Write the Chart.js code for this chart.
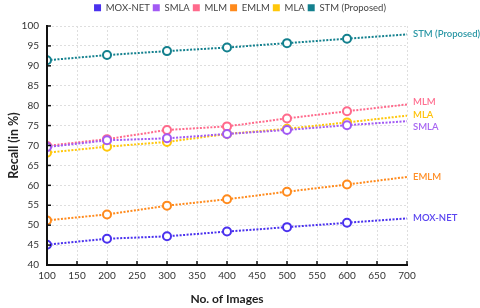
<!DOCTYPE html>
<html>
<head>
<meta charset="utf-8">
<script src="https://cdn.jsdelivr.net/npm/chart.js@4/dist/chart.umd.min.js"></script>
<style>
html,body{margin:0;padding:0;background:#fff;}
#wrap{width:480px;height:308px;position:relative;}
</style>
</head>
<body>
<div id="wrap"><canvas id="c" width="480" height="308"></canvas></div>
<script>
const xValues = [100, 200, 300, 400, 500, 600, 700];
const seriesNames = ["MOX-NET", "SMLA", "MLM", "EMLM", "MLA", "STM (Proposed)"];
const moxNet = [45.1, 46.6, 47.2, 48.4, 49.5, 50.6, 51.7];
const smla   = [69.6, 71.3, 71.8, 72.9, 73.9, 75.1, 76.1];
const mlm    = [69.9, 71.6, 73.9, 74.8, 76.8, 78.6, 80.3];
const emlm   = [51.2, 52.7, 54.9, 56.5, 58.4, 60.2, 62.1];
const mla    = [68.2, 69.7, 70.9, 72.9, 74.2, 75.8, 77.5];
const stm    = [91.4, 92.7, 93.7, 94.6, 95.7, 96.8, 97.9];
const seriesValues = [moxNet, smla, mlm, emlm, mla, stm];
const colors = ["#4a31ee", "#a25af4", "#ff6a8c", "#ff8a1c", "#ffc70a", "#13808e"];
const labelColors = ["#5a45f0", "#a866f2", "#ff6f90", "#ff8e26", "#ffc20a", "#2a97a5"];
const labelOffsets = [0, 5.5, -3, 0, -1, 0];
const yTicks = [40, 45, 50, 55, 60, 65, 70, 75, 80, 85, 90, 95, 100];

const datasets = seriesNames.map((n, i) => ({
  label: n,
  data: xValues.map((x, j) => ({x: x, y: seriesValues[i][j]})),
  borderColor: colors[i],
  backgroundColor: colors[i],
  pointBackgroundColor: "#ffffff",
  pointBorderColor: colors[i],
  pointBorderWidth: 2,
  pointRadius: ctx => ctx.dataIndex === xValues.length - 1 ? 0 : 4,
  borderWidth: 2,
  borderDash: [2, 1.5],
  tension: 0,
  fill: false
}));

const legendHeight = {
  id: "legendHeight",
  beforeLayout(chart) {
    const lg = chart.legend;
    if (lg && !lg._wrapped) {
      const orig = lg.fit.bind(lg);
      lg.fit = function () { orig(); this.height = 26; };
      lg._wrapped = true;
    }
  }
};

const innerTicks = {
  id: "innerTicks",
  afterDatasetsDraw(chart) {
    const {ctx, chartArea: a, scales: {x, y}} = chart;
    ctx.save();
    ctx.strokeStyle = "#111";
    ctx.lineWidth = 2;
    ctx.beginPath();
    ctx.moveTo(a.left, a.top - 1);
    ctx.lineTo(a.left, a.bottom);
    ctx.lineTo(a.right + 1, a.bottom);
    ctx.stroke();
    ctx.lineWidth = 1.5;
    x.ticks.forEach(t => {
      const px = x.getPixelForValue(t.value);
      ctx.beginPath(); ctx.moveTo(px, a.bottom); ctx.lineTo(px, a.bottom - 4); ctx.stroke();
    });
    y.ticks.forEach(t => {
      const py = y.getPixelForValue(t.value);
      ctx.beginPath(); ctx.moveTo(a.left, py); ctx.lineTo(a.left + 4, py); ctx.stroke();
    });
    ctx.font = "600 9.5px Lato";
    ctx.textBaseline = "middle";
    ctx.textAlign = "left";
    chart.data.datasets.forEach((ds, i) => {
      const meta = chart.getDatasetMeta(i);
      const last = meta.data[meta.data.length - 1];
      ctx.fillStyle = labelColors[i];
      ctx.fillText(ds.label, last.x + 6, last.y + labelOffsets[i]);
    });
    ctx.restore();
  }
};

new Chart(document.getElementById("c"), {
  type: "line",
  data: {datasets},
  plugins: [legendHeight, innerTicks],
  options: {
    responsive: false,
    animation: false,
    devicePixelRatio: 1,
    layout: {padding: {left: 0, right: 0, top: 0, bottom: 0}},
    plugins: {
      legend: {
        position: "top",
        labels: {
          boxWidth: 7, boxHeight: 7, padding: 3,
          color: "#444",
          font: {family: "Lato", size: 9.5, weight: "normal"},
          generateLabels: chart => chart.data.datasets.map((ds, i) => ({
            text: ds.label, fillStyle: colors[i], strokeStyle: colors[i],
            lineWidth: 0, lineDash: [], hidden: false, datasetIndex: i, fontColor: "#444"
          }))
        }
      },
      tooltip: {enabled: false}
    },
    scales: {
      x: {
        type: "linear", min: 100, max: 700,
        afterFit: s => { s.height = 43; },
        ticks: {stepSize: 50, color: "#333", font: {family: "Lato", size: 10}, padding: 5, maxRotation: 0},
        grid: {color: "#dedede", lineWidth: 1, drawTicks: false},
        border: {display: true, color: "rgba(0,0,0,0)", dash: [2, 2]},
        title: {display: true, text: "No. of Images", color: "#222", font: {family: "Lato", size: 12, weight: "bold"}, padding: {top: 4, bottom: 2}}
      },
      y: {
        type: "linear", min: 40, max: 100,
        afterFit: s => { s.width = 47; },
        afterBuildTicks: s => { s.ticks = yTicks.map(v => ({value: v})); },
        ticks: {color: "#333", font: {family: "Lato", size: 10}, padding: 8},
        grid: {color: "#dedede", lineWidth: 1, drawTicks: false},
        border: {display: true, color: "rgba(0,0,0,0)", dash: [2, 2]},
        title: {display: true, text: "Recall (in %)", color: "#222", font: {family: "Lato", size: 12.5, weight: "bold"}, padding: {top: 6, bottom: 2}}
      },
      yRight: {
        type: "linear", position: "right", min: 40, max: 100,
        afterFit: s => { s.width = 73; },
        ticks: {display: false},
        grid: {display: false, drawOnChartArea: false},
        border: {display: false}
      }
    }
  }
});
</script>
</body>
</html>
